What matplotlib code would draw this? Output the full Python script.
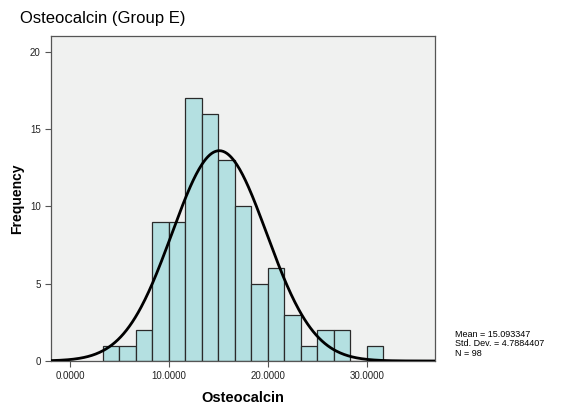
import matplotlib.pyplot as plt
import numpy as np

# histogram data
bin_edges = [3.3333, 5.0, 6.6667, 8.3333, 10.0, 11.6667, 13.3333, 15.0, 16.6667,
             18.3333, 20.0, 21.6667, 23.3333, 25.0, 26.6667, 28.3333, 30.0, 31.6667]
counts = [1, 1, 2, 9, 9, 17, 16, 13, 10, 5, 6, 3, 1, 2, 2, 0, 1]
mean = 15.093347
std = 4.7884407
n = 98
x_ticks = [0, 10, 20, 30]
y_ticks = [0, 5, 10, 15, 20]

plt.rcParams['font.family'] = ['Liberation Sans', 'DejaVu Sans']

fig = plt.figure(figsize=(5.63, 4.08), dpi=100)
ax = fig.add_axes([51 / 563, 1 - 361 / 408, 384 / 563, 325 / 408])
ax.set_facecolor('#f0f1f0')

edges = np.array(bin_edges)
ax.bar(edges[:-1], counts, width=np.diff(edges), align='edge',
       color='#b4e0e1', edgecolor='#2a2a2a', linewidth=0.9, zorder=2)

# fitted normal curve
bw = edges[1] - edges[0]
xs = np.linspace(-2, 37, 400)
ys = n * bw * np.exp(-0.5 * ((xs - mean) / std) ** 2) / (std * np.sqrt(2 * np.pi))
ax.plot(xs, ys, color='black', linewidth=2, zorder=3)

ax.set_xlim(-1.92, 36.9)
ax.set_ylim(0, 21.03)
ax.set_xticks(x_ticks)
ax.set_xticklabels(['%.4f' % v for v in x_ticks], fontsize=7)
ax.set_yticks(y_ticks)
ax.set_yticklabels([str(v) for v in y_ticks], fontsize=7)
ax.tick_params(direction='out', length=4, width=0.8, color='#555555', labelcolor='#222222')
for s in ax.spines.values():
    s.set_color('#555555')
    s.set_linewidth(0.9)

ax.set_xlabel('Osteocalcin', fontsize=10.5, fontweight='bold', labelpad=7)
ax.set_ylabel('Frequency', fontsize=10, fontweight='bold', labelpad=4)

fig.text(20 / 563, 1 - 18 / 408, 'Osteocalcin (Group E)', fontsize=12,
         va='center', ha='left')
fig.text(455 / 563, 1 - 344 / 408,
         'Mean = %s\nStd. Dev. = %s\nN = %d' % ('15.093347', '4.7884407', n),
         fontsize=6.5, va='center', ha='left', linespacing=1.1)

fig.savefig('out.png', dpi=100)
